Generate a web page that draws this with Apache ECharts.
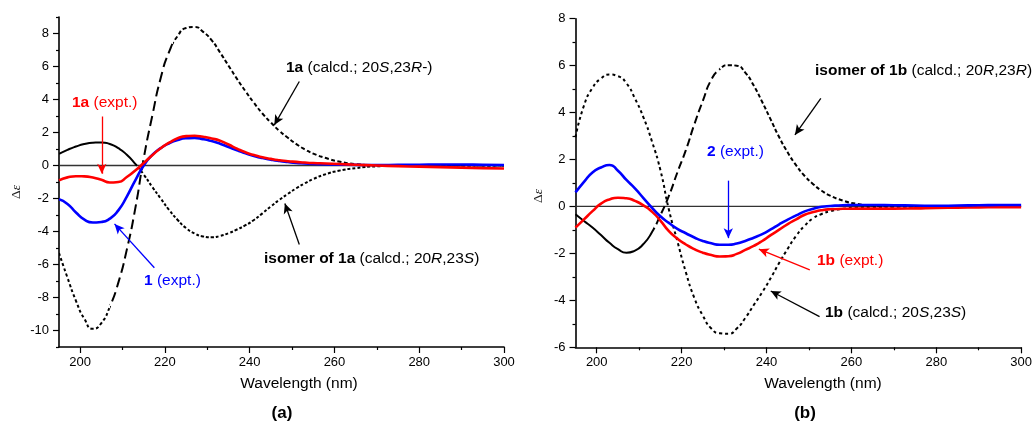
<!DOCTYPE html>
<html><head><meta charset="utf-8">
<script src="https://cdn.jsdelivr.net/npm/echarts@6/dist/echarts.min.js"></script>
<style>html,body{margin:0;padding:0;background:#fff}#c{width:1035px;height:425px}</style>
</head><body><div id="c"></div>
<script>
// ---------------- data ----------------
const wavelength = [195,197,199,201,203,205,207,209,211,213,215,217,219,221,223,225,227,229,231,233,235,237,239,241,243,245,247,249,251,253,255,258,261,265,270,275,280,285,290,295,300];
// panel (a)
const calc1a    = [-5.3,-6.8,-8.2,-9.3,-9.9,-9.55,-8.55,-7.1,-5.1,-2.6,0.45,3.0,5.3,6.9,7.85,8.33,8.4,8.1,7.6,6.85,6.05,5.25,4.5,3.8,3.15,2.6,2.1,1.68,1.3,0.98,0.72,0.45,0.24,0.09,0.02,0,0,0,0,0,0];
const calcIso1a = [0.7,0.95,1.15,1.3,1.38,1.4,1.3,1.05,0.65,0.1,-0.55,-1.3,-2.0,-2.7,-3.3,-3.8,-4.12,-4.3,-4.35,-4.27,-4.1,-3.88,-3.62,-3.3,-2.9,-2.48,-2.08,-1.72,-1.38,-1.08,-0.82,-0.52,-0.32,-0.16,-0.05,-0.02,0,0,0,0,0];
const expt1a    = [-0.9,-0.72,-0.65,-0.66,-0.73,-0.87,-1.03,-1.0,-0.7,-0.3,0.15,0.62,1.05,1.38,1.65,1.78,1.8,1.74,1.64,1.5,1.27,1.02,0.8,0.63,0.5,0.4,0.32,0.26,0.22,0.18,0.15,0.12,0.09,0.05,0.0,-0.04,-0.07,-0.1,-0.13,-0.16,-0.18];
const expt1     = [-2.05,-2.33,-2.85,-3.28,-3.45,-3.42,-3.22,-2.72,-1.88,-0.9,0.0,0.64,1.05,1.35,1.55,1.65,1.67,1.6,1.48,1.32,1.12,0.92,0.74,0.58,0.45,0.35,0.27,0.21,0.16,0.13,0.1,0.07,0.05,0.04,0.03,0.04,0.05,0.06,0.06,0.04,0.03];
// panel (b)
const calc1b    = [2.95,4.3,5.05,5.45,5.62,5.55,5.25,4.6,3.8,2.78,1.55,-0.13,-1.48,-2.8,-3.9,-4.65,-5.2,-5.4,-5.42,-5.2,-4.75,-4.2,-3.65,-3.05,-2.4,-1.8,-1.25,-0.82,-0.5,-0.32,-0.2,-0.1,-0.05,-0.03,-0.01,0,0,0,0,0,0];
const calcIso1b = [-0.33,-0.62,-0.9,-1.22,-1.55,-1.82,-1.97,-1.88,-1.6,-1.1,-0.37,0.45,1.45,2.4,3.5,4.5,5.4,5.85,6.02,6.0,5.7,5.15,4.45,3.7,2.95,2.3,1.75,1.3,0.95,0.67,0.46,0.25,0.12,0.04,0.0,0,0,0,0,0,0];
const expt2     = [0.6,1.05,1.45,1.66,1.77,1.52,1.13,0.77,0.36,-0.05,-0.42,-0.7,-0.95,-1.14,-1.32,-1.47,-1.57,-1.63,-1.63,-1.58,-1.47,-1.33,-1.18,-0.98,-0.76,-0.56,-0.38,-0.21,-0.1,-0.01,0.02,0.05,0.06,0.06,0.05,0.04,0.03,0.04,0.05,0.06,0.06];
const expt1b    = [-0.9,-0.55,-0.2,0.12,0.3,0.37,0.35,0.24,0.05,-0.22,-0.6,-1.05,-1.37,-1.62,-1.82,-1.97,-2.07,-2.13,-2.12,-2.02,-1.85,-1.68,-1.47,-1.22,-0.99,-0.75,-0.55,-0.35,-0.24,-0.16,-0.12,-0.1,-0.09,-0.09,-0.09,-0.08,-0.06,-0.05,-0.04,-0.03,-0.03];
// tick labels
const xMajorTicks = [200,220,240,260,280,300];
const xMinorTicks = [210,230,250,270,290];
const yMajorTicksA = [-10,-8,-6,-4,-2,0,2,4,6,8];
const yMinorTicksA = [-11,-9,-7,-5,-3,-1,1,3,5,7,9];
const yMajorTicksB = [-6,-4,-2,0,2,4,6,8];
const yMinorTicksB = [-5,-3,-1,1,3,5,7];

// ---------------- chart ----------------
const FONT = 'Liberation Sans, Arial, sans-serif';
const chart = echarts.init(document.getElementById('c'), null, {renderer:'canvas'});

const series = [];
const visualMaps = [];
function pts(vals){ return wavelength.map((w,i)=>[w, vals[i]]); }
// a full smooth curve, optionally shown only inside [lo, hi] (via a hidden piecewise visualMap)
function addLine(panel, vals, color, width, type, lo, hi, z){
  const idx = series.length;
  const ls = {width, type, cap:'butt', join:'round'};
  if (lo === undefined) ls.color = color;
  series.push({type:'line', xAxisIndex:panel*2, yAxisIndex:panel*2, data:pts(vals), smooth:0.6,
    symbol:'none', silent:true, z:z||3, itemStyle:{color}, lineStyle:ls});
  if (lo !== undefined) {
    visualMaps.push({type:'piecewise', show:false, seriesIndex:idx, dimension:0,
      pieces:[{gte:lo, lte:hi, color}], outOfRange:{color:'rgba(0,0,0,0)'}});
  }
}
function xAxes(grid){
  return [
    {gridIndex:grid, type:'value', min:195, max:300, position:'bottom',
     axisLine:{onZero:false, lineStyle:{color:'#000', width:1.6}},
     axisTick:{customValues:xMajorTicks, length:6, lineStyle:{color:'#000', width:1.2}},
     axisLabel:{customValues:xMajorTicks, color:'#000', fontSize:13, fontFamily:FONT, margin:9},
     splitLine:{show:false}},
    {gridIndex:grid, type:'value', min:195, max:300, position:'bottom', offset:0,
     axisLine:{show:false, onZero:false},
     axisTick:{customValues:xMinorTicks, length:3, lineStyle:{color:'#000', width:1.2}},
     axisLabel:{show:false}, splitLine:{show:false}}
  ];
}
function yAxes(grid, min, max, major, minor){
  return [
    {gridIndex:grid, type:'value', min, max, position:'left',
     axisLine:{onZero:false, lineStyle:{color:'#000', width:1.6}},
     axisTick:{customValues:major, length:6, lineStyle:{color:'#000', width:1.2}},
     axisLabel:{customValues:major, color:'#000', fontSize:13, fontFamily:FONT, margin:10},
     splitLine:{show:false}},
    {gridIndex:grid, type:'value', min, max, position:'left', offset:0,
     axisLine:{show:false, onZero:false},
     axisTick:{customValues:minor, length:3, lineStyle:{color:'#000', width:1.2}},
     axisLabel:{show:false}, splitLine:{show:false}}
  ];
}

// annotation arrows, in data coordinates
const arrowsA = [
  {from:[251.7,5.09], to:[245.8,2.45], color:'#000'},
  {from:[205.1,2.97], to:[205.1,-0.5], color:'#ff0000'},
  {from:[217.5,-6.2], to:[208.1,-3.54], color:'#0000ff'},
  {from:[251.7,-4.79], to:[248.3,-2.3], color:'#000'}
];
const arrowsB = [
  {from:[252.8,4.61], to:[246.7,3.05], color:'#000'},
  {from:[231.0,1.10], to:[231.0,-1.35], color:'#0000ff'},
  {from:[250.2,-2.70], to:[238.2,-1.82], color:'#ff0000'},
  {from:[252.5,-4.69], to:[241.0,-3.60], color:'#000'}
];
function addZeroLine(panel, arrows){
  series.push({type:'line', xAxisIndex:panel*2, yAxisIndex:panel*2, data:[[195,0],[300,0]],
    symbol:'none', silent:true, z:1, lineStyle:{color:'#333', width:1.3},
    markLine:{silent:true, symbol:['none','arrow'], symbolSize:[7,10], label:{show:false},
      animation:false,
      data:arrows.map(a=>[{coord:a.from, lineStyle:{color:a.color, width:1.3, type:'solid'}}, {coord:a.to}])}});
}

// panel (a)
addZeroLine(0, arrowsA);
addLine(0, calcIso1a, '#000', 2, 'solid', 195, 213.2);
addLine(0, calcIso1a, '#000', 2, [3,2], 213.2, 300);
addLine(0, calc1a, '#000', 2, [3,2.5], 195, 207);
addLine(0, calc1a, '#000', 2, [10,5], 207, 222);
addLine(0, calc1a, '#000', 2, [4,2.5], 222, 300);
addLine(0, expt1, '#0000ff', 2.6, 'solid', undefined, undefined, 4);
addLine(0, expt1a, '#ff0000', 2.6, 'solid', undefined, undefined, 5);
// panel (b)
addZeroLine(1, arrowsB);
addLine(1, calcIso1b, '#000', 2, 'solid', 195, 213.5);
addLine(1, calcIso1b, '#000', 2, [8,4], 213.5, 229);
addLine(1, calcIso1b, '#000', 2, [4,2.5], 229, 300);
addLine(1, calc1b, '#000', 2, [3,3]);
addLine(1, expt1b, '#ff0000', 2.6, 'solid', undefined, undefined, 4);
addLine(1, expt2, '#0000ff', 2.6, 'solid', undefined, undefined, 5);

function rt(x, y, text, color){
  const base = {fontSize:15.5, fontFamily:FONT, fill:color};
  return {type:'text', x, y, silent:true, z:50,
    style:{text, fill:color, fontSize:15.5, fontFamily:FONT, verticalAlign:'middle', align:'left',
      rich:{
        n:Object.assign({fontWeight:'normal', fontStyle:'normal'}, base),
        b:Object.assign({fontWeight:'bold', fontStyle:'normal'}, base),
        i:Object.assign({fontWeight:'normal', fontStyle:'italic'}, base)
      }}};
}
function ctext(x, y, text, size, weight){
  return {type:'text', x, y, silent:true, z:50,
    style:{text, fill:'#000', fontSize:size, fontWeight:weight||'normal', fontFamily:FONT, align:'center', verticalAlign:'middle'}};
}
function dEps(x, y){
  const base = {fontSize:13.5, fontFamily:'Liberation Serif, DejaVu Serif, serif', fill:'#222'};
  return {type:'text', x, y, rotation:Math.PI/2, silent:true, z:50,
    style:{text:'{n|Δ}{i|ε}', fill:'#222', fontSize:13.5, fontFamily:base.fontFamily, align:'center', verticalAlign:'middle',
      rich:{n:Object.assign({fontStyle:'normal'}, base), i:Object.assign({fontStyle:'italic'}, base)}}};
}

chart.setOption({
  animation:false,
  backgroundColor:'#fff',
  grid:[
    {left:59, top:17, width:445, height:330},
    {left:575.5, top:18.7, width:448, height:328.6}
  ],
  xAxis:[...xAxes(0), ...xAxes(1)],
  yAxis:[...yAxes(0,-11,9,yMajorTicksA,yMinorTicksA), ...yAxes(1,-6,8,yMajorTicksB,yMinorTicksB)],
  visualMap:visualMaps,
  series,
  graphic:[
    rt(286, 68, '{b|1a}{n| (calcd.; 20}{i|S}{n|,23}{i|R}{n|-)}', '#000'),
    rt(72, 103, '{b|1a}{n| (expt.)}', '#ff0000'),
    rt(144, 281, '{b|1}{n| (expt.)}', '#0000ff'),
    rt(264, 259, '{b|isomer of 1a}{n| (calcd.; 20}{i|R}{n|,23}{i|S}{n|)}', '#000'),
    rt(815, 71, '{b|isomer of 1b}{n| (calcd.; 20}{i|R}{n|,23}{i|R}{n|)}', '#000'),
    rt(707, 152, '{b|2}{n| (expt.)}', '#0000ff'),
    rt(817, 261, '{b|1b}{n| (expt.)}', '#ff0000'),
    rt(825, 313, '{b|1b}{n| (calcd.; 20}{i|S}{n|,23}{i|S}{n|)}', '#000'),
    ctext(299, 384, 'Wavelength (nm)', 15.5),
    ctext(823, 384, 'Wavelength (nm)', 15.5),
    ctext(282, 413, '(a)', 17, 'bold'),
    ctext(805, 413, '(b)', 17, 'bold'),
    dEps(16, 192),
    dEps(538, 196)
  ]
});
</script>
</body></html>
